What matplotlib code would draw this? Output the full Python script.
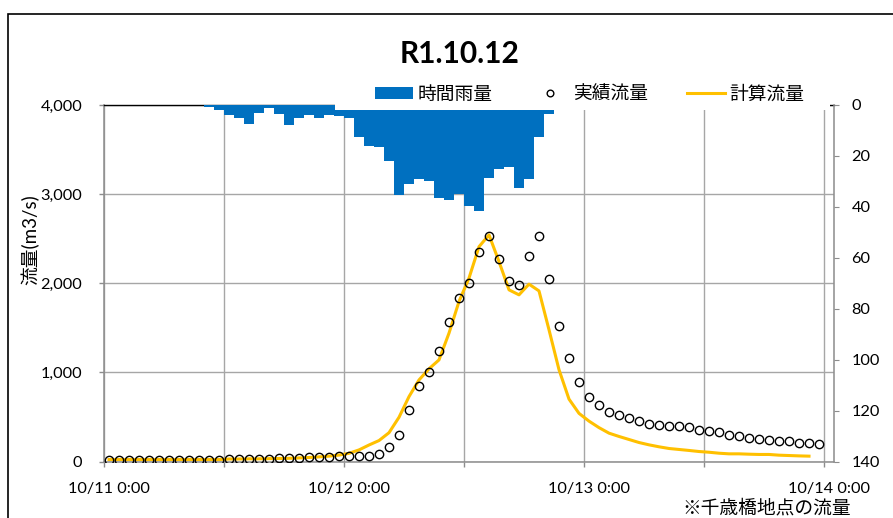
"""
Hourly rainfall and observed / calculated discharge, R1.10.12 flood
(rainfall hangs from the top on an inverted right axis)
"""

import matplotlib
matplotlib.use('Agg')
import matplotlib.pyplot as plt
from matplotlib.patches import Rectangle
from matplotlib.transforms import ScaledTranslation

plt.rcParams['font.family'] = ['Lato', 'Noto Sans CJK JP']

# hours from 10/11 0:00
obs_hours = list(range(0, 72))
obs_flow = [22, 22, 22, 22, 22, 22, 22, 22, 22, 22, 22, 22,
            28, 28, 30, 30, 32, 34, 36, 40,
            47, 54, 52, 58, 58, 58, 60, 88, 160, 300,
            580, 846, 1000, 1244, 1562, 1839, 2008, 2352, 2532, 2273,
            2022, 1981, 2303, 2532, 2045, 1524, 1157, 888, 723, 634,
            550, 525, 487, 453, 425, 413, 397, 397, 385, 356,
            345, 326, 300, 281, 266, 255, 244, 228, 225, 210,
            210, 198]

calc_hours = list(range(0, 71))
calc_flow = [22, 22, 22, 22, 22, 22, 22, 22, 22, 22, 22, 22,
             28, 28, 30, 30, 32, 34, 36, 40,
             45, 52, 60, 72, 92, 130, 185, 235, 323, 496,
             728, 915, 1040, 1140, 1440, 1795, 2058, 2410, 2543, 2243,
             1926, 1870, 1990, 1914, 1478, 1030, 700, 540, 453, 380,
             318, 281, 247, 213, 187, 165, 146, 135, 124, 112,
             104, 93, 86, 86, 82, 79, 79, 71, 67, 63,
             60]

rain_hours = list(range(10, 45))
rain = [0.7, 2, 4, 5, 7.5, 3, 1.3, 3.7, 8, 5, 4, 5, 4, 4.2, 5,
        12.5, 16, 16.6, 22, 35.5, 31, 29, 30, 36.5, 37.5, 35, 39.5, 41.5,
        28.5, 25, 24.5, 32.5, 29, 12.5, 3.5]

x_ticks = [0, 12, 24, 36, 48, 60, 72]
x_labels = ['10/11 0:00', '', '10/12 0:00', '', '10/13 0:00', '', '10/14 0:00']
y_ticks = [0, 1000, 2000, 3000, 4000]
y_labels = ['0', '1,000', '2,000', '3,000', '4,000']
rain_ticks = [0, 20, 40, 60, 80, 100, 120, 140]

W, H = 893, 518
grid_c = '#a6a6a6'
axis_c = '#8c8c8c'

fig = plt.figure(figsize=(W / 100, H / 100), dpi=100)
ax = fig.add_axes([104 / W, 1 - 461.5 / H, 730 / W, 356.5 / H])
ax2 = ax.twinx()

# flow
h_line, = ax.plot([h + 0.5 for h in calc_hours], calc_flow, color='#FFC000',
                  lw=2.2, zorder=2)
h_obs, = ax.plot([h + 0.5 for h in obs_hours], obs_flow, 'o', mfc='none',
                 mec='black', ms=6.0, mew=1.0, zorder=3)
ax.set_xlim(0, 73)
ax.set_ylim(0, 4000)
ax.set_xticks(x_ticks)
ax.set_xticklabels(x_labels)
ax.set_yticks(y_ticks)
ax.set_yticklabels(y_labels)
ax.grid(True, color=grid_c, lw=1.0)
ax.set_axisbelow(True)
ax.tick_params(axis='both', direction='out', length=3.6, color=axis_c,
               labelsize=11.8, width=1.0)
ax.tick_params(axis='y', pad=12)
ax.tick_params(axis='x', pad=11)
shift = ScaledTranslation(5 / 100, 0, fig.dpi_scale_trans)
for lbl in ax.get_xticklabels():
    lbl.set_transform(lbl.get_transform() + shift)
ax.spines['right'].set_visible(False)
ax.spines['top'].set_color('black')
ax.spines['top'].set_linewidth(1.0)
for s in ['left', 'bottom']:
    ax.spines[s].set_color(axis_c)
    ax.spines[s].set_linewidth(1.1)

# rainfall
bars = ax2.bar([h + 0.5 for h in rain_hours], rain, width=1.0,
               color='#0070C0', lw=0)
ax2.set_ylim(140, 0)
ax2.set_yticks(rain_ticks)
ax2.tick_params(axis='y', direction='out', length=3.6, color=axis_c,
                labelsize=11.8, pad=9)
for s in ['left', 'top', 'bottom']:
    ax2.spines[s].set_visible(False)
ax2.spines['right'].set_color(axis_c)
ax2.spines['right'].set_linewidth(1.1)

# legend background hides the top of the plot area
fig.add_artist(Rectangle((335 / W, 1 - 109.5 / H), 495 / W, 30 / H,
                         transform=fig.transFigure, facecolor='white',
                         edgecolor='none', zorder=4))
fig.legend([bars, h_obs, h_line], ['時間雨量', '実績流量', '計算流量'],
           loc='center left', bbox_to_anchor=(375 / W, 1 - 94 / H), ncol=3,
           frameon=False, fontsize=13.5, handlelength=2.05, handleheight=0.6,
           handletextpad=0.22, columnspacing=2.05, borderpad=0,
           borderaxespad=0, markerscale=0.8)

fig.text(460 / W, 1 - 54 / H, 'R1.10.12', ha='center', va='center',
         fontsize=21.5, fontweight='bold')
fig.text(30 / W, 1 - 240 / H, '流量(m3/s)', rotation=90, ha='center',
         va='center', fontsize=13.5)
fig.text(682 / W, 1 - 508 / H, '※千歳橋地点の流量', ha='left', va='center',
         fontsize=13.5)

# outer chart border, cut off by the right and bottom edges
fig.add_artist(Rectangle((8 / W, -0.1), 1.2, 1.1 - 14 / H,
                         transform=fig.transFigure, fill=False,
                         edgecolor='black', lw=1.2, zorder=6))

fig.savefig('out.png', dpi=100)
